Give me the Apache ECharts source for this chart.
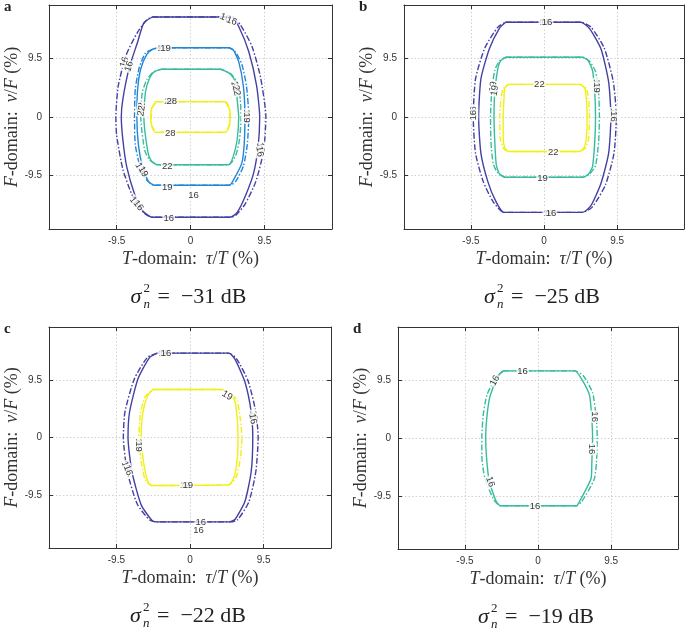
<!DOCTYPE html>
<html lang="en">
<head>
<meta charset="UTF-8">
<title>Contours</title>
<style>
  html, body { margin: 0; padding: 0; background: #fff; }
  #main { width: 685px; height: 630px; }
</style>
</head>
<body>
<div id="main"></div>
<script src="https://cdn.jsdelivr.net/npm/echarts@6/dist/echarts.min.js"></script>
<script>
// ticks shared by all four panels (%)
const tickValues = [-9.5, 0, 9.5];
const axisMin = -18.2, axisMax = 18.2;

const panelLetters = ['a', 'b', 'c', 'd'];
const noiseDb = [-31, -25, -22, -19];

// contour polygons [tau/T, nu/F] in %, solid and dash-dot estimate
// panel a
const a16Solid = [[-4.9,16.25],[5.3,16.25],[6.2,14.7],[7.5,10.6],[8.5,5.1],[8.9,0],[8.7,-4.8],[8.1,-9.2],[7.0,-13.0],[6.0,-15.5],[5.1,-16.3],[-4.9,-16.3],[-6.2,-15.2],[-7.2,-12.5],[-8.2,-8.1],[-8.7,-3.7],[-8.9,0],[-8.7,2.9],[-7.9,7.9],[-6.8,12.2],[-6.0,15.3],[-4.9,16.25]];
const a16Dash = [[-4.9,16.25],[5.3,16.25],[6.4,15.0],[7.9,11.5],[9.0,6.5],[9.7,0],[9.4,-5.5],[8.4,-10.5],[7.0,-14.2],[5.8,-16.0],[5.1,-16.3],[-4.9,-16.3],[-6.0,-15.6],[-7.4,-13.0],[-8.7,-8.5],[-9.5,-3.0],[-9.6,0],[-9.3,5.0],[-8.3,10.0],[-6.8,13.8],[-5.6,15.8],[-4.9,16.25]];
const a19Solid = [[-4.1,11.25],[4.9,11.25],[5.5,10.9],[6.2,9.0],[6.8,5.0],[7.0,0],[6.9,-4.5],[6.6,-7.5],[5.5,-10.3],[5.0,-11.1],[-4.6,-11.1],[-5.4,-10.5],[-6.2,-8.0],[-6.7,-4.5],[-6.9,0],[-6.8,4.5],[-6.4,7.8],[-5.6,10.2],[-4.9,11.0],[-4.1,11.25]];
const a19Dash = [[-4.1,11.25],[4.9,11.25],[5.7,10.7],[6.6,8.6],[7.2,5.0],[7.5,0],[7.3,-4.5],[6.8,-8.0],[5.8,-10.5],[5.0,-11.1],[-4.6,-11.1],[-5.6,-10.3],[-6.5,-8.0],[-7.1,-4.5],[-7.2,0],[-7.1,4.5],[-6.6,8.0],[-5.8,10.4],[-4.9,11.0],[-4.1,11.25]];
const a22Solid = [[-3.8,7.75],[3.8,7.75],[5.1,7.0],[5.8,5.7],[6.0,2.9],[6.2,0],[6.0,-3.7],[5.5,-6.4],[4.9,-7.75],[-4.3,-7.75],[-5.1,-7.0],[-5.5,-5.6],[-6.0,0],[-5.8,4.0],[-5.3,6.2],[-4.7,7.3],[-3.8,7.75]];
const a22Dash = [[-3.8,7.75],[3.8,7.75],[5.2,7.0],[6.0,5.6],[6.4,2.9],[6.5,0],[6.3,-3.7],[5.8,-6.3],[4.9,-7.75],[-4.3,-7.75],[-5.3,-6.9],[-5.9,-5.4],[-6.4,0],[-6.2,4.0],[-5.6,6.1],[-4.8,7.3],[-3.8,7.75]];
const a28Solid = [[-4.5,2.5],[4.5,2.5],[5.0,1.4],[5.1,0],[5.0,-1.4],[4.5,-2.5],[-4.5,-2.5],[-5.0,-1.4],[-5.1,0],[-5.0,1.4],[-4.5,2.5]];
const a28Dash = [[-4.4,2.45],[4.4,2.45],[4.95,1.4],[5.05,0],[4.95,-1.4],[4.4,-2.45],[-4.4,-2.45],[-4.95,-1.4],[-5.05,0],[-4.95,1.4],[-4.4,2.45]];
// panel b
const b16Solid = [[-5.0,15.4],[4.8,15.4],[5.9,14.4],[7.4,11.1],[8.4,5.7],[8.7,0],[8.4,-5.9],[7.4,-10.8],[6.1,-14.4],[5.0,-15.5],[-5.2,-15.5],[-6.3,-13.6],[-7.3,-10.5],[-8.2,-5.9],[-8.5,0],[-8.2,6.2],[-7.1,11.1],[-5.8,14.4],[-5.0,15.4]];
const b16Dash = [[-5.0,15.4],[4.8,15.4],[6.1,14.6],[7.8,11.3],[9.0,5.8],[9.4,0],[9.1,-5.9],[8.0,-11.0],[6.3,-14.6],[5.0,-15.5],[-5.2,-15.5],[-6.6,-13.8],[-7.9,-10.5],[-8.9,-5.9],[-9.2,0],[-8.9,6.2],[-7.7,11.2],[-6.0,14.6],[-5.0,15.4]];
const b19Solid = [[-5.0,9.7],[5.0,9.7],[5.7,9.2],[6.3,7.6],[6.6,4.0],[6.7,0],[6.6,-4.0],[6.3,-8.1],[5.7,-9.4],[5.0,-9.8],[-5.0,-9.8],[-5.8,-9.2],[-6.2,-7.8],[-6.4,-4.0],[-6.5,0],[-6.4,4.0],[-6.0,7.9],[-5.6,9.2],[-5.0,9.7]];
const b19Dash = [[-5.0,9.7],[5.0,9.7],[5.9,9.1],[6.7,7.4],[7.1,4.0],[7.2,0],[7.1,-4.0],[6.7,-7.9],[5.9,-9.3],[5.0,-9.8],[-5.0,-9.8],[-6.0,-9.1],[-6.6,-7.6],[-6.9,-4.0],[-6.95,0],[-6.8,4.0],[-6.4,7.6],[-5.8,9.1],[-5.0,9.7]];
const b22Solid = [[-4.6,5.3],[4.6,5.3],[5.3,4.7],[5.5,3.0],[5.6,0],[5.5,-3.5],[5.2,-5.0],[4.6,-5.6],[-4.6,-5.6],[-5.1,-5.0],[-5.3,-3.5],[-5.3,0],[-5.2,3.0],[-5.1,4.7],[-4.6,5.3]];
const b22Dash = [[-4.6,5.3],[4.6,5.3],[5.5,4.6],[5.8,3.0],[5.9,0],[5.8,-3.5],[5.4,-5.0],[4.6,-5.6],[-4.6,-5.6],[-5.3,-5.0],[-5.7,-3.5],[-5.75,0],[-5.6,3.0],[-5.3,4.6],[-4.6,5.3]];
// panel c
const c16Solid = [[-4.2,13.9],[5.0,13.9],[5.8,12.9],[7.1,9.1],[7.9,4.2],[8.1,0],[7.9,-5.6],[7.1,-10.5],[5.8,-13.5],[5.0,-13.9],[-4.2,-13.9],[-4.8,-13.8],[-6.3,-11.1],[-7.5,-5.6],[-8.0,0],[-7.8,4.2],[-6.7,9.7],[-5.2,13.2],[-4.2,13.9]];
const c16Dash = [[-4.2,13.9],[5.0,13.9],[6.0,13.0],[7.5,9.3],[8.5,4.2],[8.8,0],[8.5,-5.6],[7.6,-10.6],[6.1,-13.6],[5.0,-13.9],[-4.2,-13.9],[-5.2,-13.6],[-6.8,-11.0],[-8.1,-5.6],[-8.6,0],[-8.4,4.2],[-7.2,9.6],[-5.5,13.2],[-4.2,13.9]];
const c19Solid = [[-4.8,7.9],[4.0,7.9],[5.2,7.2],[5.8,6.0],[6.1,3.0],[6.2,0],[6.1,-3.5],[5.7,-6.5],[5.0,-7.8],[-5.0,-7.9],[-5.5,-7.0],[-6.0,-4.0],[-6.3,0],[-6.1,4.0],[-5.5,6.8],[-4.8,7.9]];
const c19Dash = [[-4.8,7.9],[4.0,7.9],[5.4,7.1],[6.1,6.0],[6.5,3.0],[6.7,0],[6.5,-3.5],[6.0,-6.4],[5.0,-7.8],[-5.0,-7.9],[-5.8,-6.9],[-6.3,-4.0],[-6.6,0],[-6.4,4.0],[-5.8,6.7],[-4.8,7.9]];
// panel d
const d16Solid = [[-4.5,11.0],[4.8,11.0],[5.6,9.8],[6.7,7.0],[7.0,3.0],[7.1,0],[7.0,-4.0],[6.9,-6.6],[5.4,-10.4],[5.0,-11.1],[-4.9,-11.1],[-5.5,-10.2],[-6.4,-6.6],[-6.7,-3.0],[-6.8,0],[-6.6,4.0],[-6.2,7.0],[-5.1,10.3],[-4.5,11.0]];
const d16Dash = [[-4.5,11.0],[4.8,11.0],[5.9,10.2],[7.1,7.4],[7.6,3.0],[7.7,0],[7.6,-4.0],[7.3,-6.8],[5.7,-10.4],[5.0,-11.1],[-4.9,-11.1],[-5.8,-10.0],[-6.9,-6.6],[-7.3,-3.0],[-7.3,0],[-7.1,4.0],[-6.6,7.2],[-5.3,10.2],[-4.5,11.0]];

// contour labels: [x, y, level text, angle]
const aLabels = [[4.5,16.1,'16',-20],[5.3,15.6,'16',-20],[-8.5,8.9,'16',72],[-7.9,8.2,'16',72],[-3.6,11.2,'19',0],[-3.2,11.2,'19',0],
  [5.7,4.9,'22',-78],[5.9,4.3,'22',-78],[-6.3,1.5,'22',80],[-6.3,1.0,'22',80],[-2.7,2.5,'28',0],[-2.4,2.5,'28',0],[-2.6,-2.7,'28',0],
  [7.2,0.4,'19',-90],[7.2,-0.1,'19',-90],[9.0,-5.0,'16',-80],[8.9,-5.6,'16',-80],[-3.0,-8.1,'22',0],[-6.5,-8.3,'19',-60],[-6.1,-8.9,'19',-60],
  [-3.0,-11.4,'19',0],[0.4,-12.7,'16',0],[-7.2,-13.8,'16',-52],[-6.7,-14.4,'16',-52],[-2.8,-16.5,'16',0]];
const bLabels = [[0.1,15.4,'16',0],[0.4,15.4,'16',0],[-9.2,0.9,'16',90],[-9.2,0.3,'16',90],[-6.6,4.9,'19',80],[-6.4,4.3,'19',80],
  [-0.6,5.3,'22',0],[6.9,5.3,'19',-90],[6.9,4.8,'19',-90],[9.1,0.6,'16',-90],[9.1,0.1,'16',-90],[1.2,-5.7,'22',0],[-0.2,-9.9,'19',0],
  [0.6,-15.6,'16',0],[0.9,-15.6,'16',0]];
const cLabels = [[-3.4,13.9,'16',0],[-3.1,13.9,'16',0],[4.8,6.9,'19',-32],[8.2,3.6,'16',-80],[8.1,3.1,'16',-80],[-6.6,-1.0,'19',-90],
  [-6.6,-1.5,'19',-90],[-8.3,-4.8,'16',-70],[-8.0,-5.4,'16',-70],[-0.6,-7.9,'19',0],[-0.3,-7.9,'19',0],[1.4,-14.0,'16',0],[1.1,-15.3,'16',0]];
const dLabels = [[-2.0,10.9,'16',0],[-5.6,9.4,'16',62],[7.3,3.5,'16',-90],[7.0,-1.8,'16',-90],[-6.2,-7.2,'16',-70],[-0.4,-11.2,'16',0]];

// parula-like colours, mapped per panel like the original figure
const indigo = '#4440a3', blue = '#2286d8', teal = '#38bc9e', yellow = '#f0f014';

const panels = [
  { grid: { left: 49, top: 5, width: 283, height: 224 }, labels: aLabels,
    lines: [[a16Solid, indigo, 0], [a16Dash, indigo, 1], [a19Solid, blue, 0], [a19Dash, blue, 1],
            [a22Solid, teal, 0], [a22Dash, teal, 1], [a28Solid, yellow, 0], [a28Dash, yellow, 1]] },
  { grid: { left: 404, top: 5, width: 280, height: 224 }, labels: bLabels,
    lines: [[b16Solid, indigo, 0], [b16Dash, indigo, 1], [b19Solid, teal, 0], [b19Dash, teal, 1],
            [b22Solid, yellow, 0], [b22Dash, yellow, 1]] },
  { grid: { left: 49, top: 327, width: 282, height: 221 }, labels: cLabels,
    lines: [[c16Solid, indigo, 0], [c16Dash, indigo, 1], [c19Solid, yellow, 0], [c19Dash, yellow, 1]] },
  { grid: { left: 398, top: 327, width: 280, height: 222 }, labels: dLabels,
    lines: [[d16Solid, teal, 0], [d16Dash, teal, 1]] }
];

const serif = '"Liberation Serif", "DejaVu Serif", serif';
const sans = '"Liberation Sans", Arial, sans-serif';
const nameRich = {
  i: { fontFamily: serif, fontSize: 18, fontStyle: 'italic', color: '#333' },
  r: { fontFamily: serif, fontSize: 18, color: '#333' }
};

const grids = [], xAxes = [], yAxes = [], series = [], graphics = [];

panels.forEach(function (p, i) {
  grids.push(Object.assign({ containLabel: false }, p.grid));
  const tickCommon = { inside: true, length: 4, customValues: tickValues, lineStyle: { color: '#333' } };
  const split = { show: true, lineStyle: { color: '#d0d0d0', type: [1.5, 2], width: 1 } };
  xAxes.push({
    type: 'value', gridIndex: i, min: axisMin, max: axisMax, position: 'bottom',
    axisLine: { onZero: false, lineStyle: { color: '#333', width: 1 } },
    axisTick: tickCommon, splitLine: split,
    axisLabel: { customValues: tickValues, fontSize: 10, fontFamily: sans, color: '#333', margin: 7 },
    name: '{i|T}{r|-domain:  }{i|τ}{r|/}{i|T}{r| (%)}', nameLocation: 'middle', nameGap: 21,
    nameTextStyle: { rich: nameRich }
  });
  xAxes.push({
    type: 'value', gridIndex: i, min: axisMin, max: axisMax, position: 'top',
    axisLine: { onZero: false, lineStyle: { color: '#333', width: 1 } },
    axisTick: tickCommon, axisLabel: { show: false }, splitLine: { show: false }
  });
  yAxes.push({
    type: 'value', gridIndex: i, min: axisMin, max: axisMax, position: 'left',
    axisLine: { onZero: false, lineStyle: { color: '#333', width: 1 } },
    axisTick: tickCommon, splitLine: split,
    axisLabel: { customValues: tickValues, fontSize: 10, fontFamily: sans, color: '#333', margin: 7 },
    name: '{i|F}{r|-domain:  }{i|ν}{r|/}{i|F}{r| (%)}', nameLocation: 'middle', nameGap: 26,
    nameTextStyle: { rich: nameRich }
  });
  yAxes.push({
    type: 'value', gridIndex: i, min: axisMin, max: axisMax, position: 'right',
    axisLine: { onZero: false, lineStyle: { color: '#333', width: 1 } },
    axisTick: tickCommon, axisLabel: { show: false }, splitLine: { show: false }
  });

  p.lines.forEach(function (ln) {
    series.push({
      type: 'line', xAxisIndex: 2 * i, yAxisIndex: 2 * i, data: ln[0],
      showSymbol: false, smooth: 0.2, silent: true, z: 2,
      lineStyle: { color: ln[1], width: 1.4, type: ln[2] ? [6, 2, 1.5, 2] : 'solid' }
    });
  });

  series.push({
    type: 'scatter', xAxisIndex: 2 * i, yAxisIndex: 2 * i, z: 5, silent: true,
    symbolSize: 1, itemStyle: { color: 'rgba(0,0,0,0)' },
    data: p.labels.map(function (l) {
      return { value: [l[0], l[1]], name: l[2], label: { rotate: l[3] } };
    }),
    label: {
      show: true, position: 'inside', formatter: '{b}', fontSize: 9.5, fontFamily: sans,
      color: '#000', backgroundColor: '#fff', padding: [0, 1]
    }
  });

  // panel letter
  graphics.push({
    type: 'text', left: p.grid.left - 45, top: p.grid.top - 5,
    style: { text: panelLetters[i], font: 'bold 15px ' + serif, fill: '#222' }
  });
  // noise-variance caption  σ²ₙ = −xx dB
  const cx = p.grid.left + p.grid.width / 2;
  const cy = p.grid.top + p.grid.height + 68;
  graphics.push({
    type: 'group', x: cx, y: cy,
    children: [
      { type: 'text', x: -60, y: 0, style: { text: 'σ', font: 'italic 22px ' + serif, fill: '#222', verticalAlign: 'middle' } },
      { type: 'text', x: -47, y: -8, style: { text: '2', font: '13px ' + serif, fill: '#222', verticalAlign: 'middle' } },
      { type: 'text', x: -47, y: 8, style: { text: 'n', font: 'italic 13px ' + serif, fill: '#222', verticalAlign: 'middle' } },
      { type: 'text', x: -33, y: 0, style: { text: '=  −' + Math.abs(noiseDb[i]) + ' dB', font: '22px ' + serif, fill: '#222', verticalAlign: 'middle' } }
    ]
  });
});

const chart = echarts.init(document.getElementById('main'), null, { renderer: 'canvas' });
chart.setOption({
  animation: false,
  backgroundColor: '#fff',
  grid: grids,
  xAxis: xAxes,
  yAxis: yAxes,
  series: series,
  graphic: graphics
});
</script>
</body>
</html>
